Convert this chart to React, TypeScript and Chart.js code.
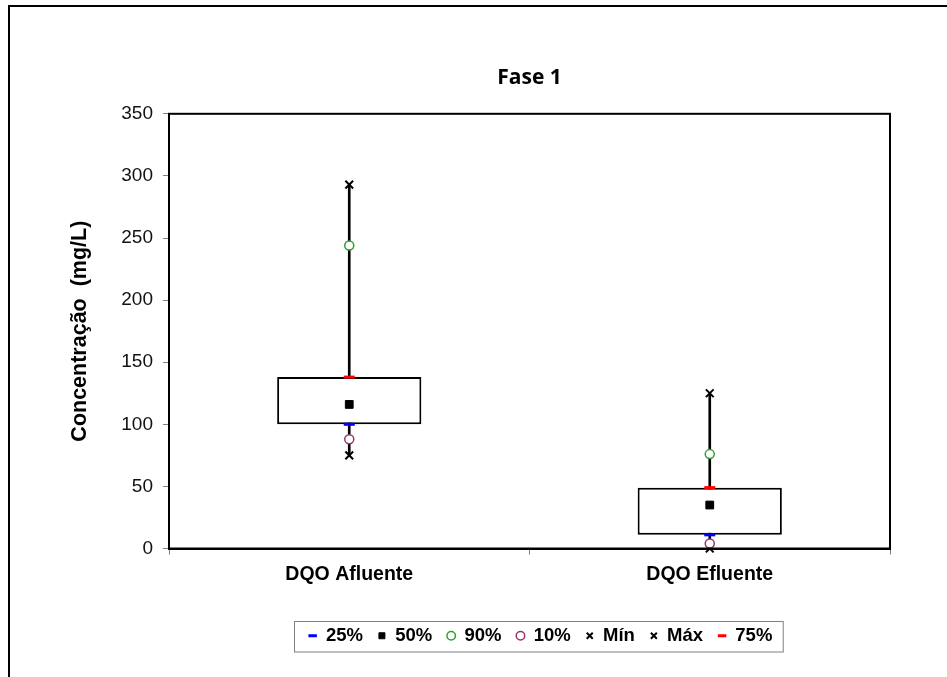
import React, { useEffect, useRef } from "react";
import { Chart, registerables } from "chart.js";

Chart.register(...registerables);

// Percentile summary of COD (DQO) concentrations, phase 1
const categories = ["DQO Afluente", "DQO Efluente"];
const p25 = [100, 11];
const p50 = [116, 35];
const p90 = [244, 76];
const p10 = [88, 4];
const minimo = [75, 0];
const maximo = [293, 125];
const p75 = [138, 49];
const yTicks = [0, 50, 100, 150, 200, 250, 300, 350];

const FONT = "'Liberation Sans', Arial, sans-serif";

const frame = {
  id: "frame",
  beforeDraw(chart: any) {
    const ctx = chart.ctx;
    ctx.save();
    ctx.fillStyle = "#ffffff";
    ctx.fillRect(0, 0, chart.width, chart.height);
    ctx.strokeStyle = "#000000";
    ctx.lineWidth = 2;
    ctx.strokeRect(9, 6, chart.width + 20, chart.height + 20);
    ctx.restore();
  },
  afterLayout(chart: any) {
    const area = chart.chartArea;
    const mid = (area.left + area.right) / 2;
    const t = chart.titleBlock;
    if (t) {
      const d = mid - (t.left + t.right) / 2;
      t.left += d;
      t.right += d;
    }
    const lg = chart.legend;
    if (lg) {
      lg.left += 62;
      lg.right += 62;
      lg.top -= 6;
      lg.bottom -= 6;
    }
  },
  afterDraw(chart: any) {
    const ctx = chart.ctx;
    const a = chart.chartArea;
    ctx.save();
    ctx.strokeStyle = "#000000";
    ctx.lineWidth = 2;
    ctx.strokeRect(a.left, a.top, a.right - a.left, a.bottom - a.top);
    const hb = chart.legend && chart.legend.legendHitBoxes;
    if (hb && hb.length) {
      const l = Math.min(...hb.map((h: any) => h.left));
      const r = Math.max(...hb.map((h: any) => h.left + h.width));
      const t = Math.min(...hb.map((h: any) => h.top));
      const b = Math.max(...hb.map((h: any) => h.top + h.height));
      ctx.strokeStyle = "#808080";
      ctx.lineWidth = 1;
      ctx.strokeRect(Math.round(l - 15) + 0.5, Math.round(t - 6) + 0.5, r - l + 25, b - t + 12);
    }
    ctx.restore();
  },
};

function marker(label: string, data: number[], style: string, color: string, fill: string, radius: number, bw: number) {
  return {
    type: "line" as const,
    label,
    data,
    showLine: false,
    clip: false,
    pointStyle: style,
    pointRadius: radius,
    pointHoverRadius: radius,
    pointBorderColor: color,
    pointBackgroundColor: fill,
    pointBorderWidth: bw,
    borderColor: color,
    backgroundColor: fill,
    borderWidth: bw,
    order: 0,
  };
}

export default function App() {
  const ref = useRef<HTMLCanvasElement>(null);

  useEffect(() => {
    if (!ref.current) return;
    const chart = new Chart(ref.current, {
      type: "bar",
      data: {
        labels: categories,
        datasets: [
          marker("25%", p25, "line", "#0000ff", "#0000ff", 5.5, 3),
          marker("50%", p50, "rect", "#000000", "#000000", 5.5, 1),
          marker("90%", p90, "circle", "#2ca02c", "#ffffff", 4.5, 1.5),
          marker("10%", p10, "circle", "#993366", "#ffffff", 4.5, 1.5),
          marker("Mín", minimo, "crossRot", "#000000", "#000000", 5.5, 2),
          marker("Máx", maximo, "crossRot", "#000000", "#000000", 5.5, 2),
          marker("75%", p75, "line", "#ff0000", "#ff0000", 5.5, 3),
          {
            type: "bar" as const,
            label: "box",
            data: categories.map((_, i) => [p25[i], p75[i]]) as any,
            backgroundColor: "#ffffff",
            borderColor: "#000000",
            borderWidth: 2,
            borderSkipped: false,
            barPercentage: 0.4,
            categoryPercentage: 1,
            grouped: false,
            order: 1,
          },
          {
            type: "bar" as const,
            label: "whisker",
            data: categories.map((_, i) => [minimo[i], maximo[i]]) as any,
            backgroundColor: "#000000",
            borderWidth: 0,
            barThickness: 2,
            grouped: false,
            order: 2,
          },
        ],
      },
      plugins: [frame],
      options: {
        animation: false,
        responsive: false,
        maintainAspectRatio: false,
        layout: { padding: { left: 67, top: 0, right: 57, bottom: 16 } },
        plugins: {
          tooltip: { enabled: false },
          title: {
            display: true,
            text: "Fase 1",
            color: "#000000",
            font: { family: "'Open Sans', sans-serif", size: 21, weight: "bold" },
            padding: { top: 65, bottom: 23.6 },
          },
          legend: {
            position: "bottom",
            labels: {
              usePointStyle: true,
              boxHeight: 6,
              boxWidth: 8,
              padding: 15,
              color: "#000000",
              font: { family: FONT, size: 18.5, weight: "bold" },
              filter: (item: any) => item.text !== "box" && item.text !== "whisker",
            },
          },
        },
        scales: {
          x: {
            offset: true,
            grid: { offset: true, drawOnChartArea: false, tickLength: 6, color: "#808080" },
            border: { display: true, color: "#000000", width: 2 },
            ticks: {
              color: "#000000",
              padding: 8,
              font: { family: FONT, size: 19.5, weight: "bold" },
            },
            afterFit: (s: any) => {
              s.height = 69;
            },
          },
          y: {
            min: 0,
            max: 350,
            afterBuildTicks: (s: any) => {
              s.ticks = yTicks.map((v) => ({ value: v }));
            },
            grid: { drawOnChartArea: false, tickLength: 6, color: "#808080" },
            border: { display: true, color: "#000000", width: 2 },
            ticks: {
              color: "#111111",
              padding: 10,
              font: { family: FONT, size: 19 },
            },
            title: {
              display: true,
              text: "Concentração  (mg/L)",
              color: "#000000",
              padding: 0,
              font: { family: FONT, size: 21.5, weight: "bold" },
            },
            afterFit: (s: any) => {
              s.width = 102;
            },
          },
        },
      },
    });
    return () => chart.destroy();
  }, []);

  return (
    <div style={{ position: "absolute", left: 0, top: 0, width: 947, height: 677, background: "#fff" }}>
      <canvas ref={ref} width={947} height={677} style={{ display: "block" }} />
    </div>
  );
}
